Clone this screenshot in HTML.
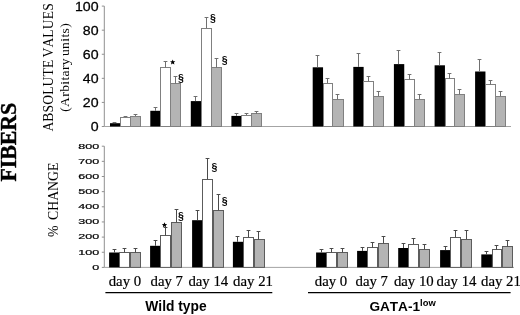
<!DOCTYPE html>
<html><head><meta charset="utf-8"><title>Fibers</title>
<style>
html,body{margin:0;padding:0;background:#fff;}
body{width:520px;height:315px;overflow:hidden;font-family:"Liberation Sans",sans-serif;}
svg{display:block;will-change:transform;filter:grayscale(1);}
</style></head><body>
<svg width="520" height="315" viewBox="0 0 520 315">
<rect width="520" height="315" fill="#fff"/>
<path d="M104.3 6.1V126.5" stroke="#909090" stroke-width="1" fill="none"/>
<path d="M104.3 126.5H511" stroke="#a4a4a4" stroke-width="1" fill="none"/>
<path d="M101.8 6.10H104.3" stroke="#909090" stroke-width="1"/>
<text transform="translate(98.6 10.50) scale(1.17 1)" text-anchor="end" font-family="Liberation Sans" font-size="12.1" stroke="#000" stroke-width="0.25">100</text>
<path d="M101.8 30.18H104.3" stroke="#909090" stroke-width="1"/>
<text transform="translate(98.6 34.58) scale(1.17 1)" text-anchor="end" font-family="Liberation Sans" font-size="12.1" stroke="#000" stroke-width="0.25">80</text>
<path d="M101.8 54.26H104.3" stroke="#909090" stroke-width="1"/>
<text transform="translate(98.6 58.66) scale(1.17 1)" text-anchor="end" font-family="Liberation Sans" font-size="12.1" stroke="#000" stroke-width="0.25">60</text>
<path d="M101.8 78.34H104.3" stroke="#909090" stroke-width="1"/>
<text transform="translate(98.6 82.74) scale(1.17 1)" text-anchor="end" font-family="Liberation Sans" font-size="12.1" stroke="#000" stroke-width="0.25">40</text>
<path d="M101.8 102.42H104.3" stroke="#909090" stroke-width="1"/>
<text transform="translate(98.6 106.82) scale(1.17 1)" text-anchor="end" font-family="Liberation Sans" font-size="12.1" stroke="#000" stroke-width="0.25">20</text>
<path d="M101.8 126.50H104.3" stroke="#909090" stroke-width="1"/>
<text transform="translate(98.6 130.90) scale(1.17 1)" text-anchor="end" font-family="Liberation Sans" font-size="12.1" stroke="#000" stroke-width="0.25">0</text>
<rect x="110.00" y="123.20" width="10.35" height="3.30" fill="#000"/>
<rect x="120.5" y="117.5" width="10.0" height="9.00" fill="#fff" stroke="#808080" stroke-width="1"/>
<rect x="130.5" y="116.5" width="10.0" height="10.00" fill="#b4b4b4" stroke="#808080" stroke-width="1"/>
<path d="M114.5 123.20V122.0M112.60 122.5H116.40" stroke="#707070" stroke-width="1" fill="none"/>
<path d="M125.5 117.20V116.0M123.60 116.5H127.40" stroke="#707070" stroke-width="1" fill="none"/>
<path d="M135.5 116.00V114.0M133.60 114.5H137.40" stroke="#707070" stroke-width="1" fill="none"/>
<rect x="150.30" y="110.80" width="10.35" height="15.70" fill="#000"/>
<rect x="160.5" y="67.5" width="10.0" height="59.00" fill="#fff" stroke="#808080" stroke-width="1"/>
<rect x="170.5" y="83.5" width="10.0" height="43.00" fill="#b4b4b4" stroke="#808080" stroke-width="1"/>
<path d="M170.5 67.0V126.5" stroke="#808080" stroke-width="1"/>
<path d="M155.5 110.80V107.0M153.60 107.5H157.40" stroke="#707070" stroke-width="1" fill="none"/>
<path d="M165.5 67.60V61.0M163.60 61.5H167.40" stroke="#707070" stroke-width="1" fill="none"/>
<path d="M175.5 83.70V76.0M173.60 76.5H177.40" stroke="#707070" stroke-width="1" fill="none"/>
<rect x="190.80" y="101.10" width="10.35" height="25.40" fill="#000"/>
<rect x="201.5" y="28.5" width="10.0" height="98.00" fill="#fff" stroke="#808080" stroke-width="1"/>
<rect x="211.5" y="67.5" width="10.0" height="59.00" fill="#b4b4b4" stroke="#808080" stroke-width="1"/>
<path d="M211.5 28.0V126.5" stroke="#808080" stroke-width="1"/>
<path d="M195.5 101.10V96.0M193.60 96.5H197.40" stroke="#707070" stroke-width="1" fill="none"/>
<path d="M206.5 28.20V17.0M204.60 17.5H208.40" stroke="#707070" stroke-width="1" fill="none"/>
<path d="M216.5 67.60V58.0M214.60 58.5H218.40" stroke="#707070" stroke-width="1" fill="none"/>
<rect x="231.40" y="115.90" width="10.35" height="10.60" fill="#000"/>
<rect x="241.5" y="115.5" width="10.0" height="11.00" fill="#fff" stroke="#808080" stroke-width="1"/>
<rect x="251.5" y="113.5" width="10.0" height="13.00" fill="#b4b4b4" stroke="#808080" stroke-width="1"/>
<path d="M236.5 115.90V113.0M234.60 113.5H238.40" stroke="#707070" stroke-width="1" fill="none"/>
<path d="M246.5 115.30V113.0M244.60 113.5H248.40" stroke="#707070" stroke-width="1" fill="none"/>
<path d="M256.5 113.80V111.0M254.60 111.5H258.40" stroke="#707070" stroke-width="1" fill="none"/>
<rect x="312.70" y="67.30" width="10.35" height="59.20" fill="#000"/>
<rect x="323.5" y="83.5" width="9.0" height="43.00" fill="#fff" stroke="#808080" stroke-width="1"/>
<rect x="332.5" y="99.5" width="11.0" height="27.00" fill="#b4b4b4" stroke="#808080" stroke-width="1"/>
<path d="M332.5 83.0V126.5" stroke="#808080" stroke-width="1"/>
<path d="M317.5 67.30V55.0M315.60 55.5H319.40" stroke="#707070" stroke-width="1" fill="none"/>
<path d="M327.5 83.10V78.0M325.60 78.5H329.40" stroke="#707070" stroke-width="1" fill="none"/>
<path d="M337.5 99.40V94.0M335.60 94.5H339.40" stroke="#707070" stroke-width="1" fill="none"/>
<rect x="353.30" y="66.90" width="10.35" height="59.60" fill="#000"/>
<rect x="363.5" y="81.5" width="10.0" height="45.00" fill="#fff" stroke="#808080" stroke-width="1"/>
<rect x="373.5" y="96.5" width="10.0" height="30.00" fill="#b4b4b4" stroke="#808080" stroke-width="1"/>
<path d="M373.5 81.0V126.5" stroke="#808080" stroke-width="1"/>
<path d="M358.5 66.90V53.0M356.60 53.5H360.40" stroke="#707070" stroke-width="1" fill="none"/>
<path d="M368.5 81.40V76.0M366.60 76.5H370.40" stroke="#707070" stroke-width="1" fill="none"/>
<path d="M378.5 96.30V91.0M376.60 91.5H380.40" stroke="#707070" stroke-width="1" fill="none"/>
<rect x="393.90" y="64.10" width="10.35" height="62.40" fill="#000"/>
<rect x="404.5" y="79.5" width="10.0" height="47.00" fill="#fff" stroke="#808080" stroke-width="1"/>
<rect x="414.5" y="99.5" width="10.0" height="27.00" fill="#b4b4b4" stroke="#808080" stroke-width="1"/>
<path d="M414.5 79.0V126.5" stroke="#808080" stroke-width="1"/>
<path d="M398.5 64.10V50.0M396.60 50.5H400.40" stroke="#707070" stroke-width="1" fill="none"/>
<path d="M409.5 79.50V74.0M407.60 74.5H411.40" stroke="#707070" stroke-width="1" fill="none"/>
<path d="M419.5 99.40V94.0M417.60 94.5H421.40" stroke="#707070" stroke-width="1" fill="none"/>
<rect x="434.60" y="65.30" width="10.35" height="61.20" fill="#000"/>
<rect x="445.5" y="78.5" width="9.0" height="48.00" fill="#fff" stroke="#808080" stroke-width="1"/>
<rect x="454.5" y="94.5" width="10.0" height="32.00" fill="#b4b4b4" stroke="#808080" stroke-width="1"/>
<path d="M454.5 78.0V126.5" stroke="#808080" stroke-width="1"/>
<path d="M439.5 65.30V52.0M437.60 52.5H441.40" stroke="#707070" stroke-width="1" fill="none"/>
<path d="M449.5 78.70V73.0M447.60 73.5H451.40" stroke="#707070" stroke-width="1" fill="none"/>
<path d="M459.5 94.30V89.0M457.60 89.5H461.40" stroke="#707070" stroke-width="1" fill="none"/>
<rect x="475.10" y="71.50" width="10.35" height="55.00" fill="#000"/>
<rect x="485.5" y="84.5" width="10.0" height="42.00" fill="#fff" stroke="#808080" stroke-width="1"/>
<rect x="495.5" y="96.5" width="10.0" height="30.00" fill="#b4b4b4" stroke="#808080" stroke-width="1"/>
<path d="M495.5 84.0V126.5" stroke="#808080" stroke-width="1"/>
<path d="M479.5 71.50V59.0M477.60 59.5H481.40" stroke="#707070" stroke-width="1" fill="none"/>
<path d="M490.5 84.60V80.0M488.60 80.5H492.40" stroke="#707070" stroke-width="1" fill="none"/>
<path d="M500.5 96.30V91.0M498.60 91.5H502.40" stroke="#707070" stroke-width="1" fill="none"/>
<path d="M104.3 146.2V267.4" stroke="#909090" stroke-width="1" fill="none"/>
<path d="M104.3 267.4H514" stroke="#a4a4a4" stroke-width="1" fill="none"/>
<path d="M101.8 146.20H104.3" stroke="#909090" stroke-width="1"/>
<text transform="translate(99.3 148.50) scale(1.57 1)" text-anchor="end" font-family="Liberation Sans" font-size="8" stroke="#000" stroke-width="0.2">800</text>
<path d="M101.8 161.35H104.3" stroke="#909090" stroke-width="1"/>
<text transform="translate(99.3 163.65) scale(1.57 1)" text-anchor="end" font-family="Liberation Sans" font-size="8" stroke="#000" stroke-width="0.2">700</text>
<path d="M101.8 176.50H104.3" stroke="#909090" stroke-width="1"/>
<text transform="translate(99.3 178.80) scale(1.57 1)" text-anchor="end" font-family="Liberation Sans" font-size="8" stroke="#000" stroke-width="0.2">600</text>
<path d="M101.8 191.65H104.3" stroke="#909090" stroke-width="1"/>
<text transform="translate(99.3 193.95) scale(1.57 1)" text-anchor="end" font-family="Liberation Sans" font-size="8" stroke="#000" stroke-width="0.2">500</text>
<path d="M101.8 206.80H104.3" stroke="#909090" stroke-width="1"/>
<text transform="translate(99.3 209.10) scale(1.57 1)" text-anchor="end" font-family="Liberation Sans" font-size="8" stroke="#000" stroke-width="0.2">400</text>
<path d="M101.8 221.95H104.3" stroke="#909090" stroke-width="1"/>
<text transform="translate(99.3 224.25) scale(1.57 1)" text-anchor="end" font-family="Liberation Sans" font-size="8" stroke="#000" stroke-width="0.2">300</text>
<path d="M101.8 237.10H104.3" stroke="#909090" stroke-width="1"/>
<text transform="translate(99.3 239.40) scale(1.57 1)" text-anchor="end" font-family="Liberation Sans" font-size="8" stroke="#000" stroke-width="0.2">200</text>
<path d="M101.8 252.25H104.3" stroke="#909090" stroke-width="1"/>
<text transform="translate(99.3 254.55) scale(1.57 1)" text-anchor="end" font-family="Liberation Sans" font-size="8" stroke="#000" stroke-width="0.2">100</text>
<path d="M101.8 267.40H104.3" stroke="#909090" stroke-width="1"/>
<text transform="translate(99.3 269.70) scale(1.57 1)" text-anchor="end" font-family="Liberation Sans" font-size="8" stroke="#000" stroke-width="0.2">0</text>
<rect x="109.10" y="252.50" width="10.65" height="14.90" fill="#000"/>
<rect x="119.5" y="252.5" width="10.0" height="14.90" fill="#fff" stroke="#5c5c5c" stroke-width="1"/>
<rect x="130.5" y="252.5" width="10.0" height="14.90" fill="#b4b4b4" stroke="#5c5c5c" stroke-width="1"/>
<path d="M114.5 252.50V249.0M112.60 249.5H116.40" stroke="#4a4a4a" stroke-width="1" fill="none"/>
<path d="M124.5 252.50V248.0M122.60 248.5H126.40" stroke="#4a4a4a" stroke-width="1" fill="none"/>
<path d="M135.5 252.50V248.0M133.60 248.5H137.40" stroke="#4a4a4a" stroke-width="1" fill="none"/>
<rect x="150.10" y="245.80" width="10.65" height="21.60" fill="#000"/>
<rect x="160.5" y="235.5" width="10.0" height="31.90" fill="#fff" stroke="#5c5c5c" stroke-width="1"/>
<rect x="171.5" y="222.5" width="10.0" height="44.90" fill="#b4b4b4" stroke="#5c5c5c" stroke-width="1"/>
<path d="M155.5 245.80V240.0M153.60 240.5H157.40" stroke="#4a4a4a" stroke-width="1" fill="none"/>
<path d="M165.5 235.50V227.0M163.60 227.5H167.40" stroke="#4a4a4a" stroke-width="1" fill="none"/>
<path d="M176.5 222.20V209.0M174.60 209.5H178.40" stroke="#4a4a4a" stroke-width="1" fill="none"/>
<rect x="192.10" y="220.20" width="10.65" height="47.20" fill="#000"/>
<rect x="202.5" y="179.5" width="10.0" height="87.90" fill="#fff" stroke="#5c5c5c" stroke-width="1"/>
<rect x="213.5" y="210.5" width="10.0" height="56.90" fill="#b4b4b4" stroke="#5c5c5c" stroke-width="1"/>
<path d="M197.5 220.20V210.0M195.60 210.5H199.40" stroke="#4a4a4a" stroke-width="1" fill="none"/>
<path d="M207.5 179.30V158.0M205.60 158.5H209.40" stroke="#4a4a4a" stroke-width="1" fill="none"/>
<path d="M218.5 210.30V194.0M216.60 194.5H220.40" stroke="#4a4a4a" stroke-width="1" fill="none"/>
<rect x="232.90" y="241.80" width="10.65" height="25.60" fill="#000"/>
<rect x="243.5" y="237.5" width="10.0" height="29.90" fill="#fff" stroke="#5c5c5c" stroke-width="1"/>
<rect x="254.5" y="239.5" width="10.0" height="27.90" fill="#b4b4b4" stroke="#5c5c5c" stroke-width="1"/>
<path d="M237.5 241.80V236.0M235.60 236.5H239.40" stroke="#4a4a4a" stroke-width="1" fill="none"/>
<path d="M248.5 237.40V230.0M246.60 230.5H250.40" stroke="#4a4a4a" stroke-width="1" fill="none"/>
<path d="M258.5 239.60V231.0M256.60 231.5H260.40" stroke="#4a4a4a" stroke-width="1" fill="none"/>
<rect x="316.10" y="252.50" width="10.65" height="14.90" fill="#000"/>
<rect x="326.5" y="252.5" width="10.0" height="14.90" fill="#fff" stroke="#5c5c5c" stroke-width="1"/>
<rect x="337.5" y="252.5" width="10.0" height="14.90" fill="#b4b4b4" stroke="#5c5c5c" stroke-width="1"/>
<path d="M321.5 252.50V249.0M319.60 249.5H323.40" stroke="#4a4a4a" stroke-width="1" fill="none"/>
<path d="M331.5 252.50V248.0M329.60 248.5H333.40" stroke="#4a4a4a" stroke-width="1" fill="none"/>
<path d="M342.5 252.50V248.0M340.60 248.5H344.40" stroke="#4a4a4a" stroke-width="1" fill="none"/>
<rect x="357.10" y="250.90" width="10.65" height="16.50" fill="#000"/>
<rect x="367.5" y="247.5" width="10.0" height="19.90" fill="#fff" stroke="#5c5c5c" stroke-width="1"/>
<rect x="378.5" y="243.5" width="10.0" height="23.90" fill="#b4b4b4" stroke="#5c5c5c" stroke-width="1"/>
<path d="M362.5 250.90V247.0M360.60 247.5H364.40" stroke="#4a4a4a" stroke-width="1" fill="none"/>
<path d="M372.5 247.80V242.0M370.60 242.5H374.40" stroke="#4a4a4a" stroke-width="1" fill="none"/>
<path d="M383.5 243.30V236.0M381.60 236.5H385.40" stroke="#4a4a4a" stroke-width="1" fill="none"/>
<rect x="398.20" y="248.00" width="10.65" height="19.40" fill="#000"/>
<rect x="408.5" y="244.5" width="10.0" height="22.90" fill="#fff" stroke="#5c5c5c" stroke-width="1"/>
<rect x="419.5" y="249.5" width="10.0" height="17.90" fill="#b4b4b4" stroke="#5c5c5c" stroke-width="1"/>
<path d="M403.5 248.00V243.0M401.60 243.5H405.40" stroke="#4a4a4a" stroke-width="1" fill="none"/>
<path d="M413.5 244.00V238.0M411.60 238.5H415.40" stroke="#4a4a4a" stroke-width="1" fill="none"/>
<path d="M424.5 249.30V244.0M422.60 244.5H426.40" stroke="#4a4a4a" stroke-width="1" fill="none"/>
<rect x="440.10" y="250.10" width="10.65" height="17.30" fill="#000"/>
<rect x="450.5" y="237.5" width="10.0" height="29.90" fill="#fff" stroke="#5c5c5c" stroke-width="1"/>
<rect x="461.5" y="239.5" width="10.0" height="27.90" fill="#b4b4b4" stroke="#5c5c5c" stroke-width="1"/>
<path d="M445.5 250.10V246.0M443.60 246.5H447.40" stroke="#4a4a4a" stroke-width="1" fill="none"/>
<path d="M455.5 237.40V230.0M453.60 230.5H457.40" stroke="#4a4a4a" stroke-width="1" fill="none"/>
<path d="M466.5 239.00V230.0M464.60 230.5H468.40" stroke="#4a4a4a" stroke-width="1" fill="none"/>
<rect x="481.30" y="254.40" width="10.65" height="13.00" fill="#000"/>
<rect x="492.5" y="249.5" width="9.0" height="17.90" fill="#fff" stroke="#5c5c5c" stroke-width="1"/>
<rect x="502.5" y="246.5" width="10.0" height="20.90" fill="#b4b4b4" stroke="#5c5c5c" stroke-width="1"/>
<path d="M486.5 254.40V251.0M484.60 251.5H488.40" stroke="#4a4a4a" stroke-width="1" fill="none"/>
<path d="M496.5 249.70V245.0M494.60 245.5H498.40" stroke="#4a4a4a" stroke-width="1" fill="none"/>
<path d="M507.5 246.50V240.0M505.60 240.5H509.40" stroke="#4a4a4a" stroke-width="1" fill="none"/>
<polygon points="172.70,59.40 173.46,61.15 175.36,61.33 173.94,62.60 174.35,64.47 172.70,63.50 171.05,64.47 171.46,62.60 170.04,61.33 171.94,61.15" fill="#000"/>
<text transform="translate(178.0 81.9) scale(0.9 1)" font-family="Liberation Sans" font-weight="bold" font-size="11.7">§</text>
<text transform="translate(210.0 22.2) scale(0.9 1)" font-family="Liberation Sans" font-weight="bold" font-size="11.7">§</text>
<text transform="translate(221.7 63.5) scale(0.9 1)" font-family="Liberation Sans" font-weight="bold" font-size="11.7">§</text>
<polygon points="164.50,222.20 165.26,223.95 167.16,224.13 165.74,225.40 166.15,227.27 164.50,226.30 162.85,227.27 163.26,225.40 161.84,224.13 163.74,223.95" fill="#000"/>
<text transform="translate(178.0 220.1) scale(0.9 1)" font-family="Liberation Sans" font-weight="bold" font-size="11.7">§</text>
<text transform="translate(211.5 170.5) scale(0.9 1)" font-family="Liberation Sans" font-weight="bold" font-size="11.7">§</text>
<text transform="translate(221.7 204.7) scale(0.9 1)" font-family="Liberation Sans" font-weight="bold" font-size="11.7">§</text>
<text x="108.7" y="285.5" font-family="Liberation Serif" font-size="14.8" stroke="#000" stroke-width="0.2" style="font-kerning:none">day 0</text>
<text x="150.5" y="285.5" font-family="Liberation Serif" font-size="14.8" stroke="#000" stroke-width="0.2" style="font-kerning:none">day 7</text>
<text x="188.4" y="285.5" font-family="Liberation Serif" font-size="14.8" stroke="#000" stroke-width="0.2" style="font-kerning:none">day 14</text>
<text x="233.1" y="285.5" font-family="Liberation Serif" font-size="14.8" stroke="#000" stroke-width="0.2" style="font-kerning:none">day 21</text>
<text x="314.8" y="285.5" font-family="Liberation Serif" font-size="14.8" stroke="#000" stroke-width="0.2" style="font-kerning:none">day 0</text>
<text x="355.5" y="285.5" font-family="Liberation Serif" font-size="14.8" stroke="#000" stroke-width="0.2" style="font-kerning:none">day 7</text>
<text x="393.9" y="285.5" font-family="Liberation Serif" font-size="14.8" stroke="#000" stroke-width="0.2" style="font-kerning:none">day 10</text>
<text x="436.6" y="285.5" font-family="Liberation Serif" font-size="14.8" stroke="#000" stroke-width="0.2" style="font-kerning:none">day 14</text>
<text x="481.0" y="285.5" font-family="Liberation Serif" font-size="14.8" stroke="#000" stroke-width="0.2" style="font-kerning:none">day 21</text>
<path d="M105.4 292.6H272.3" stroke="#000" stroke-width="1.3"/>
<path d="M308 292.6H510.6" stroke="#000" stroke-width="1.3"/>
<text x="145.3" y="310.5" font-family="Liberation Sans" font-weight="bold" font-size="13.8" style="font-kerning:none">Wild type</text>
<text x="369.4" y="310.5" font-family="Liberation Sans" font-weight="bold" font-size="13.6" style="font-kerning:none">GATA-1</text>
<text x="420.1" y="306.3" font-family="Liberation Sans" font-weight="bold" font-size="9.4" style="font-kerning:none">low</text>
<text transform="translate(52.8 131.6) rotate(-90) scale(1 1.07)" font-family="Liberation Serif" font-weight="normal" font-size="13.56" stroke="#000" stroke-width="0" style="font-kerning:none;word-spacing:-1.5px;letter-spacing:0.16px">ABSOLUTE VALUES</text>
<text transform="translate(68.7 111.8) rotate(-90) scale(1 0.95)" font-family="Liberation Serif" font-weight="normal" font-size="13.5" stroke="#000" stroke-width="0" style="font-kerning:none;word-spacing:-1.8px;letter-spacing:0.4px">(Arbitary units)</text>
<text transform="translate(58.4 236.9) rotate(-90) scale(1 1.0)" font-family="Liberation Serif" font-weight="normal" font-size="13.75" stroke="#000" stroke-width="0" style="font-kerning:none;word-spacing:2.1px;letter-spacing:0px">% CHANGE</text>
<text transform="translate(15.7 181.5) rotate(-90) scale(1 1.02)" font-family="Liberation Serif" font-weight="bold" font-size="21.8" stroke="#000" stroke-width="0.4" style="font-kerning:none;word-spacing:0px;letter-spacing:0px">FIBERS</text>
</svg>
</body></html>
